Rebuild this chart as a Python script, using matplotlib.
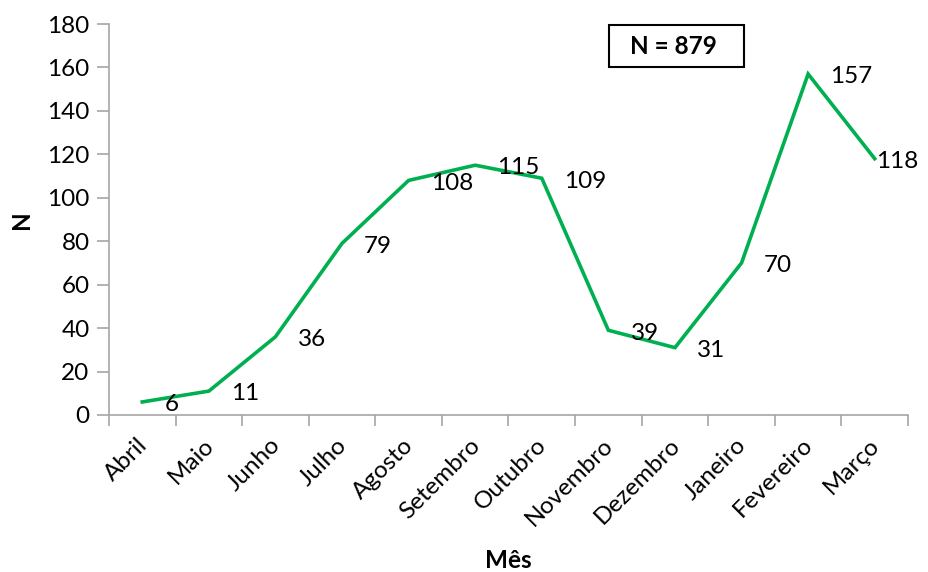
import matplotlib.pyplot as plt
from matplotlib.patches import Rectangle
from matplotlib.transforms import ScaledTranslation
import numpy as np

plt.rcParams['font.family'] = ['Lato', 'DejaVu Sans']

meses = ['Abril', 'Maio', 'Junho', 'Julho', 'Agosto', 'Setembro', 'Outubro',
         'Novembro', 'Dezembro', 'Janeiro', 'Fevereiro', 'Março']
n_casos = [6, 11, 36, 79, 108, 115, 109, 39, 31, 70, 157, 118]
y_ticks = list(range(0, 181, 20))
total_label = 'N = 879'

fs = 17.5

fig = plt.figure(figsize=(9.29, 5.72), dpi=100)
ax = fig.add_axes([0.1173, 0.2745, 0.8601, 0.6835])

x = np.arange(len(meses))
ax.plot(x, n_casos, color='#00B050', linewidth=2.6, solid_joinstyle='miter')

# data labels to the right of each point (last one pulled in so it fits, like Excel)
for i, (xi, v) in enumerate(zip(x, n_casos)):
    dx = 1 if i == len(n_casos) - 1 else 16
    ax.annotate(str(v), (xi, v), xytext=(dx, -2), textcoords='offset points',
                ha='left', va='center', fontsize=fs, color='black')

ax.set_xlim(-0.5, len(meses) - 0.5)
ax.set_ylim(0, 180)
ax.set_yticks(y_ticks)

# labels at category centres, tick marks at the boundaries
ax.set_xticks(x)
ax.set_xticklabels(meses, rotation=45, ha='right', va='top', rotation_mode='anchor')
ax.set_xticks(np.arange(-0.5, len(meses)), minor=True)
ax.tick_params(axis='x', which='major', length=0, pad=14, labelsize=fs)
ax.tick_params(axis='x', which='minor', length=8, width=1.2, color='#A6A6A6', direction='out')
ax.tick_params(axis='y', length=9, width=1.2, color='#A6A6A6', labelsize=fs, pad=5)

# nudge rotated labels a bit to the left
shift = ScaledTranslation(-6 / 100, 0, fig.dpi_scale_trans)
for lbl in ax.get_xticklabels():
    lbl.set_transform(lbl.get_transform() + shift)

for s in ['top', 'right']:
    ax.spines[s].set_visible(False)
for s in ['left', 'bottom']:
    ax.spines[s].set_color('#A6A6A6')
    ax.spines[s].set_linewidth(1.2)

ax.set_ylabel('N', fontsize=fs, fontweight='bold', labelpad=10)
ax.set_xlabel('Mês', fontsize=fs, fontweight='bold', labelpad=14)

# total box
ax.add_patch(Rectangle((0.626, 0.890), 0.169, 0.107, transform=ax.transAxes,
                       facecolor='white', edgecolor='black', linewidth=1.5, clip_on=False))
ax.text(0.706, 0.943, total_label, transform=ax.transAxes, ha='center', va='center',
        fontsize=fs, fontweight='bold')

fig.savefig('out.png', dpi=100)
